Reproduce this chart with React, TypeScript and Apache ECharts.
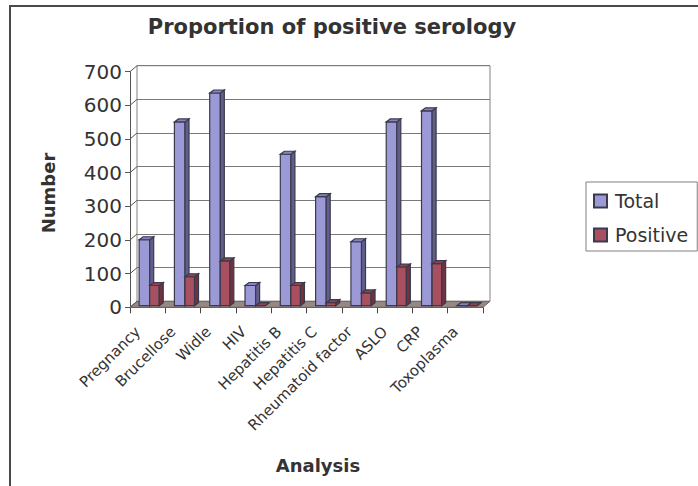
import React, { useEffect, useRef } from "react";
import * as echarts from "echarts";

const categories = [
  "Pregnancy",
  "Brucellose",
  "Widle",
  "HIV",
  "Hepatitis B",
  "Hepatitis C",
  "Rheumatoid factor",
  "ASLO",
  "CRP",
  "Toxoplasma",
];
const totalValues = [196, 546, 632, 60, 450, 324, 190, 546, 579, 0];
const positiveValues = [60, 86, 133, 0, 60, 9, 38, 115, 125, 0];
const yTicks = [0, 100, 200, 300, 400, 500, 600, 700];

const FONT = "DejaVu Sans";
const DX = 7; // back wall depth offset x
const DY = 6; // back wall depth offset y

function barRenderer(offA: number, offB: number, front: string, side: string, top: string) {
  return (params: any, api: any) => {
    const idx = api.value(0);
    const val = api.value(1);
    const c = api.coord([idx, val]);
    const b = api.coord([idx, 0]);
    const band = api.size([1, 0])[0];
    const x0 = c[0] + offA * band + 1;
    const x1 = c[0] + offB * band + 1;
    const yt = c[1] - 1.6;
    const yb = b[1] - 1.6;
    const dx = 4;
    const dy = 3;
    const stroke = "#3a3a4c";
    return {
      type: "group",
      children: [
        {
          type: "rect",
          shape: { x: x0, y: yt, width: x1 - x0, height: Math.max(0, yb - yt) },
          style: { fill: front, stroke, lineWidth: 1.2 },
        },
        {
          type: "polygon",
          shape: { points: [[x1, yb], [x1 + dx, yb - dy], [x1 + dx, yt - dy], [x1, yt]] },
          style: { fill: side, stroke, lineWidth: 1.2 },
        },
        {
          type: "polygon",
          shape: { points: [[x0, yt], [x0 + dx, yt - dy], [x1 + dx, yt - dy], [x1, yt]] },
          style: { fill: top, stroke, lineWidth: 1.2 },
        },
      ],
    };
  };
}

export default function App() {
  const ref = useRef<HTMLDivElement>(null);
  useEffect(() => {
    document.body.style.margin = "0";
    if (!ref.current) return;
    const chart = echarts.init(ref.current, undefined, { renderer: "svg" });
    const gridLeft = 130;
    const gridTop = 71.7;
    const gridW = 353;
    const gridH = 235.6;
    const option: any = {
      animation: false,
      backgroundColor: "#ffffff",
      title: {
        text: "Proportion of positive serology",
        left: 327,
        textAlign: "center",
        top: 11,
        textStyle: { fontFamily: FONT, fontSize: 21, fontWeight: "bold", color: "#333333" },
      },
      legend: {
        orient: "vertical",
        left: 586,
        top: 182,
        data: ["Total", "Positive"],
        icon: "rect",
        itemWidth: 13,
        itemHeight: 13,
        itemGap: 14,
        padding: [9, 9, 6, 7],
        borderColor: "#808080",
        borderWidth: 1,
        textStyle: { fontFamily: FONT, fontSize: 19, color: "#333333", lineHeight: 20, padding: [0, 0, 0, 3] },
      },
      graphic: [
        {
          type: "rect",
          shape: { x: 10, y: 6, width: 720, height: 520 },
          style: { fill: "none", stroke: "#4a4a4a", lineWidth: 2 },
          z: 100,
        },
        {
          type: "text",
          x: 48,
          y: 193,
          rotation: Math.PI / 2,
          style: {
            text: "Number",
            fontFamily: FONT,
            fontSize: 18,
            fontWeight: "bold",
            fill: "#333333",
            align: "center",
            verticalAlign: "middle",
          },
        },
        {
          type: "text",
          x: 318,
          y: 465,
          style: {
            text: "Analysis",
            fontFamily: FONT,
            fontSize: 18,
            fontWeight: "bold",
            fill: "#333333",
            align: "center",
            verticalAlign: "middle",
          },
        },
      ],
      grid: [
        { left: gridLeft, top: gridTop, width: gridW, height: gridH, containLabel: false },
        {
          left: gridLeft + DX,
          top: gridTop - DY,
          width: gridW,
          height: gridH,
          show: true,
          borderColor: "#8a807c",
          borderWidth: 1,
          backgroundColor: "transparent",
        },
      ],
      xAxis: [
        {
          type: "category",
          gridIndex: 0,
          data: categories,
          axisLine: { show: true, lineStyle: { color: "#444444", width: 1 } },
          axisTick: { show: true, alignWithLabel: false, length: 6, lineStyle: { color: "#444444" } },
          axisLabel: {
            rotate: 45,
            interval: 0,
            margin: 12,
            padding: [0, 14, 0, 0],
            fontFamily: FONT,
            fontSize: 15,
            color: "#333333",
          },
          splitLine: { show: false },
        },
        {
          type: "category",
          gridIndex: 1,
          data: categories,
          show: false,
        },
      ],
      yAxis: [
        {
          type: "value",
          gridIndex: 0,
          min: 0,
          max: 700,
          interval: 100,
          axisLine: { show: true, lineStyle: { color: "#555555", width: 1 } },
          axisTick: { show: true, length: 5, lineStyle: { color: "#555555" } },
          axisLabel: { margin: 8, fontFamily: FONT, fontSize: 20, color: "#333333" },
          splitLine: { show: false },
        },
        {
          type: "value",
          gridIndex: 1,
          min: 0,
          max: 700,
          interval: 100,
          axisLine: { show: false },
          axisTick: { show: false },
          axisLabel: { show: false },
          splitLine: { show: true, lineStyle: { color: "#7a7a7a", width: 1 } },
        },
      ],
      series: [
        {
          type: "custom",
          name: "floor",
          xAxisIndex: 0,
          yAxisIndex: 0,
          z: 1,
          silent: true,
          clip: false,
          data: [[0, 0]],
          renderItem: (params: any) => {
            const cs = params.coordSys;
            const yF = cs.y + cs.height;
            return {
              type: "polygon",
              shape: {
                points: [
                  [cs.x, yF],
                  [cs.x + cs.width, yF],
                  [cs.x + cs.width + DX, yF - DY],
                  [cs.x + DX, yF - DY],
                ],
              },
              style: { fill: "#968883", stroke: "#6e6462", lineWidth: 1 },
            };
          },
        },
        {
          type: "custom",
          name: "wallticks",
          xAxisIndex: 0,
          yAxisIndex: 0,
          z: 1,
          silent: true,
          clip: false,
          data: yTicks.map((v) => [0, v]),
          renderItem: (params: any, api: any) => {
            const cs = params.coordSys;
            const p = api.coord([0, api.value(1)]);
            return {
              type: "line",
              shape: { x1: cs.x, y1: p[1], x2: cs.x + DX, y2: p[1] - DY },
              style: { stroke: "#555555", lineWidth: 1 },
            };
          },
        },
        {
          type: "custom",
          name: "Total",
          xAxisIndex: 0,
          yAxisIndex: 0,
          z: 3,
          clip: false,
          itemStyle: { color: "#9c9ad6", borderColor: "#3a3a4c", borderWidth: 1 },
          data: totalValues.map((v, i) => [i, v]),
          encode: { x: 0, y: 1 },
          renderItem: barRenderer(-0.27, 0.03, "#9c9ad6", "#615e8e", "#8583c2"),
        },
        {
          type: "custom",
          name: "Positive",
          xAxisIndex: 0,
          yAxisIndex: 0,
          z: 4,
          clip: false,
          itemStyle: { color: "#a8505f", borderColor: "#3a3a4c", borderWidth: 1 },
          data: positiveValues.map((v, i) => [i, v]),
          encode: { x: 0, y: 1 },
          renderItem: barRenderer(0.03, 0.3, "#a8505f", "#6f3240", "#93414f"),
        },
      ],
    };
    chart.setOption(option);
    return () => chart.dispose();
  }, []);
  return <div ref={ref} style={{ width: 698, height: 486 }} />;
}
